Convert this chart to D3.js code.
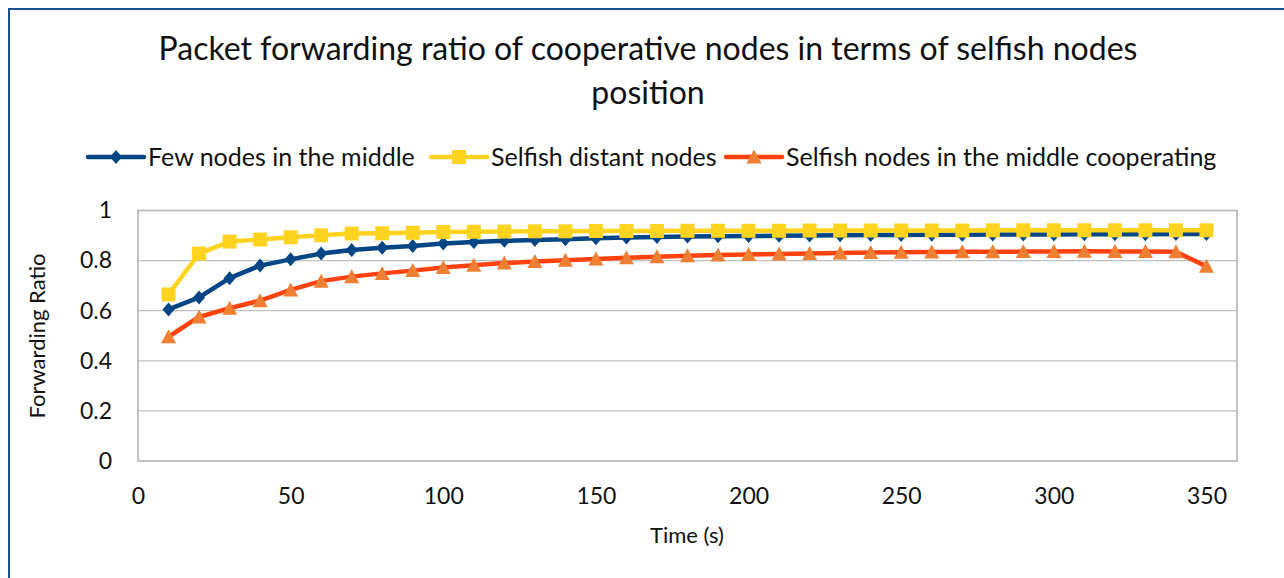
<!DOCTYPE html>
<html>
<head>
<meta charset="utf-8">
<script src="https://cdn.jsdelivr.net/npm/d3@7"></script>
<style>
    body { margin: 0; background: #fff; }
    text { font-family: Lato, 'Open Sans', sans-serif; fill: #111; }
</style>
</head>
<body>
<div id="chart"></div>
<script>
// time axis (s)
const times = [10, 20, 30, 40, 50, 60, 70, 80, 90, 100, 110, 120, 130, 140, 150, 160, 170, 180,
    190, 200, 210, 220, 230, 240, 250, 260, 270, 280, 290, 300, 310, 320, 330, 340, 350];

const fewMiddle = [0.605, 0.653, 0.730, 0.780, 0.805, 0.828, 0.842, 0.851, 0.858, 0.868, 0.874, 0.879,
    0.882, 0.885, 0.889, 0.892, 0.894, 0.896, 0.897, 0.898, 0.899, 0.900, 0.901, 0.902, 0.902, 0.903,
    0.903, 0.904, 0.904, 0.904, 0.905, 0.905, 0.905, 0.906, 0.906];

const distantNodes = [0.665, 0.828, 0.876, 0.884, 0.893, 0.901, 0.908, 0.909, 0.911, 0.914, 0.915, 0.916,
    0.917, 0.917, 0.918, 0.918, 0.918, 0.919, 0.919, 0.919, 0.919, 0.920, 0.920, 0.920, 0.920, 0.920,
    0.920, 0.921, 0.921, 0.921, 0.921, 0.921, 0.921, 0.921, 0.921];

const middleCooperating = [0.496, 0.575, 0.610, 0.640, 0.683, 0.718, 0.736, 0.749, 0.760, 0.772, 0.781, 0.790,
    0.796, 0.801, 0.806, 0.811, 0.815, 0.819, 0.822, 0.824, 0.826, 0.828, 0.830, 0.832, 0.833, 0.834,
    0.835, 0.835, 0.836, 0.836, 0.837, 0.836, 0.836, 0.835, 0.777];

const seriesNames = ['Few nodes in the middle', 'Selfish distant nodes', 'Selfish nodes in the middle cooperating'];
const xTicks = [0, 50, 100, 150, 200, 250, 300, 350];
const yTicks = [0, 0.2, 0.4, 0.6, 0.8, 1];

class Chart {

    init() {
        this.width = 1284;
        this.height = 578;
        this.plot = {left: 138, right: 1237, top: 210.5, bottom: 461};

        this.svg = d3.select('#chart').append('svg')
            .attr('width', this.width)
            .attr('height', this.height);

        this.x = d3.scaleLinear().domain([0, 360]).range([this.plot.left, this.plot.right]);
        this.y = d3.scaleLinear().domain([0, 1]).range([this.plot.bottom, this.plot.top]);

        this.series = [
            {name: seriesNames[0], values: fewMiddle, line: '#004586', fill: '#004586', shape: 'diamond'},
            {name: seriesNames[1], values: distantNodes, line: '#FFD320', fill: '#FFD320', shape: 'square'},
            {name: seriesNames[2], values: middleCooperating, line: '#FF420E', fill: '#EE7F33', shape: 'triangle'}
        ];

        this.drawFrame();
        this.drawAxes();
        this.series.forEach(s => this.drawSeries(s));
        this.drawLegend();
    }

    drawFrame() {
        // outer chart border, runs off the right and bottom of the picture
        this.svg.append('rect')
            .attr('x', 9).attr('y', 9)
            .attr('width', 1400).attr('height', 700)
            .attr('fill', 'none')
            .attr('stroke', '#1c4e8a')
            .attr('stroke-width', 2);

        let title = this.svg.append('text')
            .attr('text-anchor', 'middle')
            .style('font-size', '32px');
        title.append('tspan').attr('x', 648).attr('y', 60)
            .text('Packet forwarding ratio of cooperative nodes in terms of selfish nodes');
        title.append('tspan').attr('x', 648).attr('y', 104)
            .text('position');
    }

    drawAxes() {
        let p = this.plot;

        this.svg.append('g')
            .selectAll('line')
            .data(yTicks.filter(d => d > 0))
            .join('line')
            .attr('x1', p.left).attr('x2', p.right)
            .attr('y1', d => this.y(d)).attr('y2', d => this.y(d))
            .attr('stroke', '#c0c0c0')
            .attr('stroke-width', 1.2);

        this.svg.append('rect')
            .attr('x', p.left).attr('y', p.top)
            .attr('width', p.right - p.left).attr('height', p.bottom - p.top)
            .attr('fill', 'none')
            .attr('stroke', '#bcbcbc')
            .attr('stroke-width', 1.8);

        let xAxis = this.svg.append('g')
            .attr('transform', 'translate(0,' + p.bottom + ')')
            .call(d3.axisBottom(this.x).tickValues(xTicks).tickSize(0).tickPadding(27));
        let yAxis = this.svg.append('g')
            .attr('transform', 'translate(' + p.left + ',0)')
            .call(d3.axisLeft(this.y).tickValues(yTicks).tickFormat(d => String(d)).tickSize(0).tickPadding(26));

        [xAxis, yAxis].forEach(a => {
            a.select('.domain').remove();
            a.selectAll('text')
                .style('font-family', 'Lato, sans-serif')
                .style('font-size', '23px')
                .attr('fill', '#111');
        });

        this.svg.append('text')
            .attr('x', 687).attr('y', 543)
            .attr('text-anchor', 'middle')
            .style('font-size', '22px')
            .text('Time (s)');

        this.svg.append('text')
            .attr('transform', 'translate(45,336) rotate(-90)')
            .attr('text-anchor', 'middle')
            .style('font-size', '22px')
            .text('Forwarding Ratio');
    }

    symbolPath(shape) {
        if (shape === 'diamond') return 'M0,-7L6,0L0,7L-6,0Z';
        if (shape === 'square') return 'M-7,-7H7V7H-7Z';
        return 'M0,-7.5L7.5,6.5H-7.5Z';
    }

    drawSeries(s) {
        let pts = times.map((t, i) => [t, s.values[i]]);
        let line = d3.line()
            .x(d => this.x(d[0]))
            .y(d => this.y(d[1]));

        this.svg.append('path')
            .attr('d', line(pts))
            .attr('fill', 'none')
            .attr('stroke', s.line)
            .attr('stroke-width', 4.5)
            .attr('stroke-linejoin', 'round');

        this.svg.append('g')
            .selectAll('path')
            .data(pts)
            .join('path')
            .attr('transform', d => 'translate(' + this.x(d[0]) + ',' + this.y(d[1]) + ')')
            .attr('d', this.symbolPath(s.shape))
            .attr('fill', s.fill);
    }

    drawLegend() {
        // legend line start x for each entry
        let starts = [88, 431, 726];
        let y = 157;
        this.series.forEach((s, i) => {
            let g = this.svg.append('g').attr('transform', 'translate(' + starts[i] + ',' + y + ')');
            g.append('line')
                .attr('x1', 0).attr('x2', 56)
                .attr('stroke', s.line)
                .attr('stroke-width', 4.5)
                .attr('stroke-linecap', 'round');
            g.append('path')
                .attr('transform', 'translate(28,0)')
                .attr('d', this.symbolPath(s.shape))
                .attr('fill', s.fill);
            g.append('text')
                .attr('x', 60).attr('y', 9)
                .style('font-size', '25px')
                .text(s.name);
        });
    }
}

window.chart = new Chart();
window.chart.init();
</script>
</body>
</html>
